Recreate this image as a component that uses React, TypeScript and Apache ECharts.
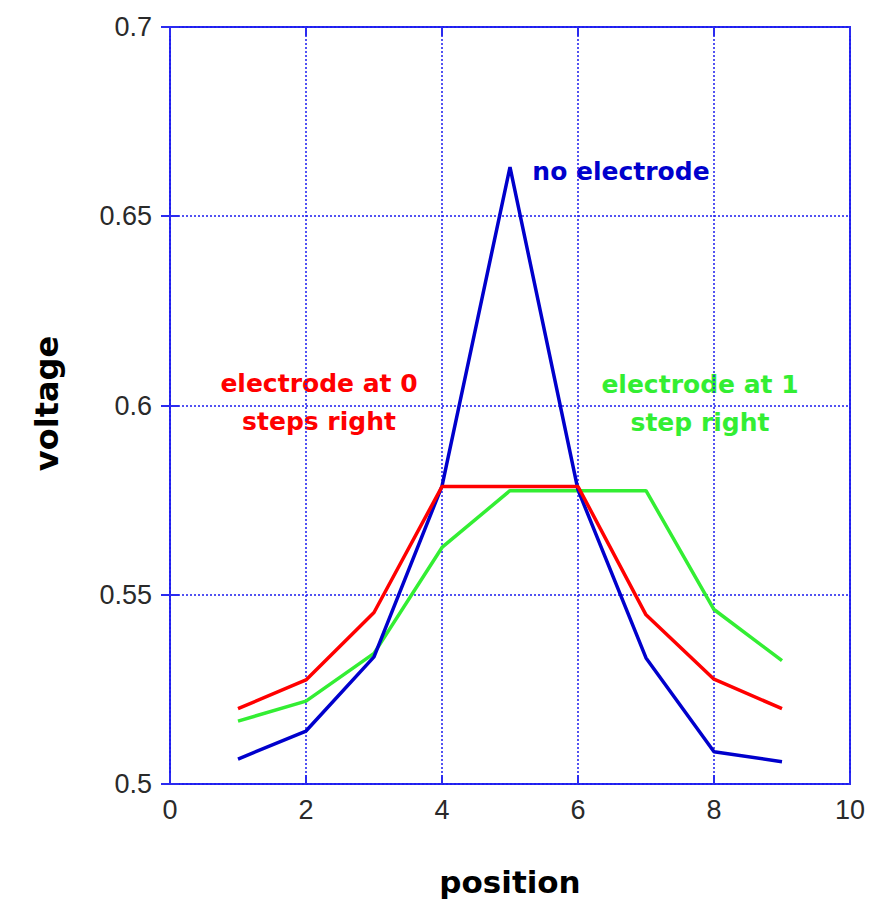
import React, { useEffect, useRef } from "react";
import * as echarts from "echarts";

const positions = [1, 2, 3, 4, 5, 6, 7, 8, 9];
const noElectrode = [0.5066, 0.514, 0.5336, 0.5787, 0.663, 0.5777, 0.5333, 0.5085, 0.5059];
const electrodeAt0 = [0.5199, 0.5275, 0.5453, 0.5786, 0.5786, 0.5786, 0.5447, 0.5277, 0.5199];
const electrodeAt1 = [0.5166, 0.5219, 0.5345, 0.5625, 0.5775, 0.5775, 0.5775, 0.5461, 0.5326];
const xTicks = [0, 2, 4, 6, 8, 10];
const yTicks = ["0.5", "0.55", "0.6", "0.65", "0.7"];

const toPairs = (ys: number[]) => positions.map((x, i) => [x, ys[i]]);

export default function App() {
  const ref = useRef<HTMLDivElement>(null);
  useEffect(() => {
    document.body.style.margin = "0";
    const chart = echarts.init(ref.current!, null, { renderer: "svg" });
    const frame = "#2b2bf0";
    const tickLabel = { fontFamily: "Liberation Sans", fontSize: 27, color: "#2a2a2a" };
    const ticksInside = { show: true, inside: true, length: 9, lineStyle: { color: frame, width: 2 } };
    const split = { show: true, lineStyle: { color: "#1a1aee", type: [2, 2] as any, width: 1.5 } };
    const annot = (text: string, x: number, y: number, color: string) => ({
      type: "text",
      x,
      y,
      style: {
        text,
        fill: color,
        font: "bold 25px 'DejaVu Sans'",
        textAlign: "center",
        textVerticalAlign: "middle",
        lineHeight: 38,
      },
    });
    chart.setOption({
      animation: false,
      backgroundColor: "#fff",
      grid: { left: 170, top: 27, right: 19, bottom: 118, show: true, borderColor: frame, borderWidth: 2 },
      xAxis: [
        {
          type: "value",
          min: 0,
          max: 10,
          interval: 2,
          axisLine: { show: false },
          axisTick: ticksInside,
          splitLine: split,
          axisLabel: {
            ...tickLabel,
            margin: 12,
            formatter: (v: number) => (xTicks.includes(v) ? String(v) : ""),
          },
          name: "position",
          nameLocation: "middle",
          nameGap: 82,
          nameTextStyle: { fontFamily: "DejaVu Sans", fontWeight: "bold", fontSize: 31, color: "#000" },
        },
        {
          type: "value",
          position: "top",
          min: 0,
          max: 10,
          interval: 2,
          axisLine: { show: false },
          axisTick: ticksInside,
          splitLine: { show: false },
          axisLabel: { show: false },
        },
      ],
      yAxis: [
        {
          type: "value",
          min: 0.5,
          max: 0.7,
          interval: 0.05,
          axisLine: { show: false },
          axisTick: ticksInside,
          splitLine: split,
          axisLabel: {
            ...tickLabel,
            margin: 18,
            formatter: (v: number) => yTicks[Math.round((v - 0.5) / 0.05)] ?? "",
          },
          name: "voltage",
          nameLocation: "middle",
          nameGap: 107,
          nameRotate: 90,
          nameTextStyle: { fontFamily: "DejaVu Sans", fontWeight: "bold", fontSize: 32, color: "#000", padding: [0, 0, 0, 4] },
        },
        {
          type: "value",
          position: "right",
          min: 0.5,
          max: 0.7,
          interval: 0.05,
          axisLine: { show: false },
          axisTick: ticksInside,
          splitLine: { show: false },
          axisLabel: { show: false },
        },
      ],
      series: [
        {
          name: "no electrode",
          type: "line",
          data: toPairs(noElectrode),
          showSymbol: false,
          lineStyle: { color: "#0000cc", width: 3.5 },
          z: 3,
        },
        {
          name: "electrode at 0 steps right",
          type: "line",
          data: toPairs(electrodeAt0),
          showSymbol: false,
          lineStyle: { color: "#ff0000", width: 3.5 },
          z: 4,
        },
        {
          name: "electrode at 1 step right",
          type: "line",
          data: toPairs(electrodeAt1),
          showSymbol: false,
          lineStyle: { color: "#33ee33", width: 3.5 },
          z: 2,
        },
      ],
      graphic: [
        annot("no electrode", 621, 171, "#0000cc"),
        annot("electrode at 0\nsteps right", 319, 402, "#ff0000"),
        annot("electrode at 1\nstep right", 700, 403, "#33ee33"),
      ],
    });
    return () => chart.dispose();
  }, []);
  return <div ref={ref} style={{ width: 869, height: 902 }} />;
}
